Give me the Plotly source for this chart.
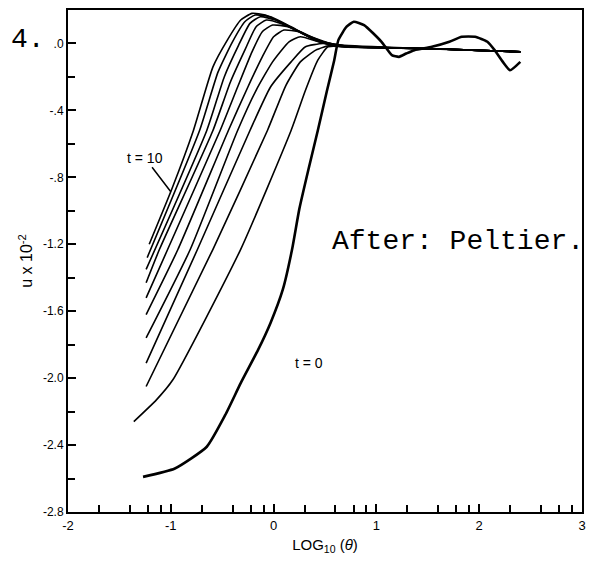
import plotly.graph_objects as go

# ---- data ----
curve_names = ["t=10", "t=9", "t=8", "t=7", "t=6", "t=5", "t=4", "t=3", "t=2", "t=1", "t=0"]

t10_x = [-1.21, -0.99, -0.78, -0.59, -0.45, -0.32, -0.21, -0.08, 0.12, 0.36, 0.61, 0.85, 1.44, 1.93, 2.40]
t10_y = [-1.20, -0.87, -0.52, -0.14, 0.02, 0.14, 0.18, 0.17, 0.11, 0.04, -0.01, -0.02, -0.03, -0.04, -0.05]

t9_x = [-1.23, -0.72, -0.54, -0.40, -0.28, -0.18, -0.03, 0.17, 0.41, 0.66, 1.44, 1.93, 2.40]
t9_y = [-1.28, -0.52, -0.17, 0.01, 0.13, 0.17, 0.16, 0.10, 0.02, -0.01, -0.03, -0.04, -0.05]

t8_x = [-1.24, -0.65, -0.48, -0.34, -0.23, -0.13, 0.02, 0.22, 0.44, 0.71, 1.44, 1.93, 2.40]
t8_y = [-1.35, -0.52, -0.20, -0.01, 0.12, 0.16, 0.14, 0.08, 0.01, -0.02, -0.03, -0.04, -0.05]

t7_x = [-1.24, -1.11, -0.59, -0.42, -0.28, -0.17, -0.07, 0.07, 0.26, 0.48, 0.76, 1.44, 1.93, 2.40]
t7_y = [-1.43, -1.23, -0.52, -0.23, -0.04, 0.10, 0.14, 0.12, 0.07, 0.01, -0.02, -0.03, -0.04, -0.05]

t6_x = [-1.24, -1.03, -0.52, -0.35, -0.21, -0.11, -0.01, 0.14, 0.31, 0.52, 0.80, 1.44, 1.93, 2.40]
t6_y = [-1.52, -1.23, -0.52, -0.26, -0.05, 0.07, 0.11, 0.10, 0.05, 0.00, -0.02, -0.03, -0.04, -0.05]

t5_x = [-1.24, -0.93, -0.44, -0.25, -0.11, 0.00, 0.10, 0.25, 0.41, 0.58, 0.85, 1.44, 1.93, 2.40]
t5_y = [-1.62, -1.23, -0.52, -0.26, -0.08, 0.04, 0.08, 0.07, 0.02, -0.01, -0.02, -0.03, -0.04, -0.05]

t4_x = [-1.24, -0.81, -0.35, -0.17, -0.01, 0.15, 0.26, 0.44, 0.66, 1.44, 1.93, 2.40]
t4_y = [-1.76, -1.23, -0.52, -0.28, -0.11, 0.01, 0.04, 0.01, -0.02, -0.03, -0.04, -0.05]

t3_x = [-1.24, -0.74, -0.23, -0.03, 0.17, 0.31, 0.48, 0.71, 1.44, 1.93, 2.40]
t3_y = [-1.91, -1.23, -0.52, -0.26, -0.11, -0.02, 0.00, -0.02, -0.03, -0.04, -0.05]

t2_x = [-1.24, -0.59, -0.06, 0.12, 0.26, 0.41, 0.56, 0.75, 1.44, 1.93, 2.40]
t2_y = [-2.05, -1.23, -0.52, -0.25, -0.11, -0.04, -0.01, -0.02, -0.03, -0.04, -0.05]

t1_x = [-1.36, -1.14, -0.98, -0.32, 0.17, 0.31, 0.43, 0.53, 0.71, 1.44, 1.93, 2.40]
t1_y = [-2.26, -2.13, -2.01, -1.23, -0.52, -0.28, -0.10, -0.02, -0.02, -0.03, -0.04, -0.05]

t0_x = [-1.27, -0.96, -0.65, -0.47, -0.32, -0.15, -0.03, 0.09, 0.18, 0.25, 0.34, 0.43, 0.52, 0.59,
        0.63, 0.71, 0.78, 0.88, 1.05, 1.15, 1.22, 1.29, 1.37, 1.54, 1.71, 1.83, 1.96, 2.08, 2.15,
        2.23, 2.30, 2.40]
t0_y = [-2.59, -2.54, -2.41, -2.22, -2.03, -1.83, -1.67, -1.47, -1.23, -0.99, -0.75, -0.52, -0.28, -0.10,
        0.02, 0.10, 0.13, 0.11, 0.01, -0.07, -0.08, -0.06, -0.04, -0.02, 0.01, 0.04, 0.04, 0.01, -0.04,
        -0.11, -0.16, -0.11]

curves_x = [t10_x, t9_x, t8_x, t7_x, t6_x, t5_x, t4_x, t3_x, t2_x, t1_x, t0_x]
curves_y = [t10_y, t9_y, t8_y, t7_y, t6_y, t5_y, t4_y, t3_y, t2_y, t1_y, t0_y]

y_tick_vals = [0, -0.4, -0.8, -1.2, -1.6, -2.0, -2.4, -2.8]
y_tick_text = [".0", "-.4", "-.8", "-1.2", "-1.6", "-2.0", "-2.4", "-2.8"]
y_minor_vals = [0.2, -0.2, -0.6, -1.0, -1.4, -1.8, -2.2, -2.6]
x_tick_vals = [-2, -1, 0, 1, 2, 3]
x_tick_text = ["-2", "-1", "0", "1", "2", "3"]
x_minor_vals = [-1.699, -1.398, -1.222, -1.097,
                -0.699, -0.398, -0.222, -0.097,
                0.301, 0.602, 0.778, 0.903,
                1.301, 1.602, 1.778, 1.903,
                2.301, 2.602, 2.778, 2.903]

fig = go.Figure()
for name, xs, ys in zip(curve_names, curves_x, curves_y):
    fig.add_trace(go.Scatter(
        x=xs, y=ys, mode="lines", name=name,
        line=dict(color="black", width=2.6 if name == "t=0" else 1.6,
                  shape="spline", smoothing=0.5),
        showlegend=False, hoverinfo="skip"))

axis_font = dict(family="Liberation Sans, Arial, sans-serif", size=12, color="black")

fig.update_layout(
    width=600, height=564,
    margin=dict(l=60, r=26, t=2, b=60),
    paper_bgcolor="white", plot_bgcolor="white",
    font=axis_font,
    xaxis=dict(
        range=[-2, 3], showgrid=False, zeroline=False, automargin=False,
        showline=True, linecolor="black", linewidth=2, mirror=True,
        ticks="inside", ticklen=8, tickwidth=1.5, tickcolor="black",
        tickvals=x_tick_vals, ticktext=x_tick_text,
        tickfont=dict(size=13),
        minor=dict(tickvals=x_minor_vals, ticks="inside", ticklen=7,
                   tickwidth=1.5, tickcolor="black", showgrid=False),
        title=dict(text="LOG<sub>10</sub> (<i>θ</i>)",
                   font=dict(family="Liberation Sans, Arial, sans-serif", size=15),
                   standoff=8),
    ),
    yaxis=dict(
        range=[-2.8, 0.2], showgrid=False, zeroline=False, automargin=False,
        showline=True, linecolor="black", linewidth=2, mirror=True,
        ticks="inside", ticklen=8, tickwidth=1.5, tickcolor="black",
        tickvals=y_tick_vals, ticktext=y_tick_text,
        minor=dict(tickvals=y_minor_vals, ticks="inside", ticklen=7,
                   tickwidth=1.5, tickcolor="black", showgrid=False),
        title=dict(text="u x 10<sup>-2</sup>",
                   font=dict(family="Liberation Sans, Arial, sans-serif", size=16),
                   standoff=6),
    ),
)

fig.add_annotation(x=-1.0, y=-0.886, xref="x", yref="y", text="t = 10",
                   showarrow=True, arrowhead=0, arrowwidth=1.5, arrowcolor="black",
                   ax=-26, ay=-34,
                   font=dict(family="Liberation Sans, Arial, sans-serif", size=14, color="black"))
fig.add_annotation(x=-0.01, y=-1.66, xref="x", yref="y", text="t = 0",
                   showarrow=True, arrowhead=0, arrowwidth=1.5, arrowcolor="black",
                   ax=36, ay=42,
                   font=dict(family="Liberation Sans, Arial, sans-serif", size=14, color="black"))

mono = dict(family="Liberation Mono, Courier New, monospace", size=28, color="black")
fig.add_annotation(x=(458 - 68) / 514, y=(512 - 241) / 502, xref="paper", yref="paper",
                   xanchor="center", yanchor="middle",
                   text="After: Peltier.", showarrow=False, font=mono)
fig.add_annotation(x=(10 - 68) / 514, y=(512 - 40) / 502, xref="paper", yref="paper",
                   xanchor="left", yanchor="middle", borderpad=0,
                   text="4.", showarrow=False, font=mono)

fig.write_html("out.html")
